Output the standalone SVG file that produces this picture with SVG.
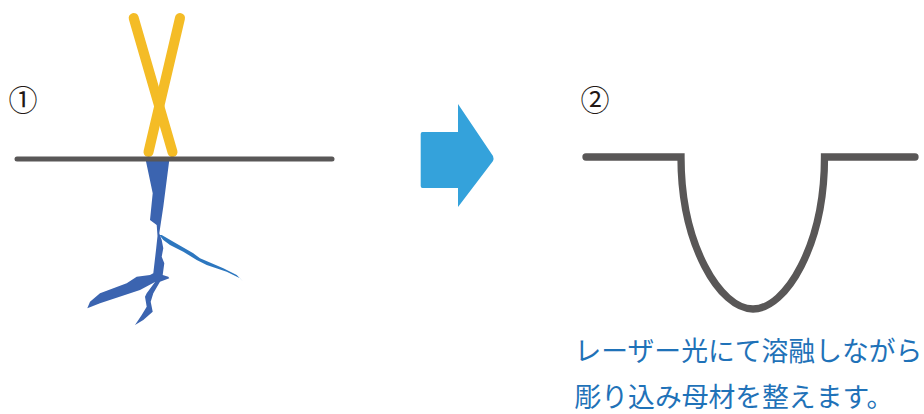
<svg xmlns="http://www.w3.org/2000/svg" width="924" height="414" viewBox="0 0 924 414">
  <style>
    .num { font-family: "Noto Sans CJK JP", "Noto Sans", sans-serif; font-size: 29px; fill: #231815; text-anchor: middle; }
    .caption { font-family: "Noto Sans CJK JP", sans-serif; font-size: 26.8px; fill: #1F72B8; }
    .surface { fill: none; stroke: #595757; stroke-linecap: round; stroke-linejoin: miter; }
    .laser { stroke: #F4BC26; stroke-width: 10; stroke-linecap: round; }
  </style>
  <rect width="924" height="414" fill="#ffffff"/>

  <!-- Step 1: laser beams over a cracked surface -->
  <g id="step1">
    <text class="num" x="23" y="111">①</text>
    <!-- crack body -->
    <path fill="#3B64B0" d="M145.7,160 L169.3,160 L163.3,206.7 L159.3,233.3 L161.7,240 L163.3,248.3 L161.7,256.7 L164.3,263.3 L162.7,275 L168.3,276.7 L169.3,278.3 L160,281.7 L153.3,293.3 L150.7,301.7 L152.7,311.7 L143.3,320 L135,325 L141.7,315 L146.7,306.7 L145,296.7 L146.7,293.3 L155,282 L140,290 L100,303.3 L87.3,308.3 L90,301.7 L100,293.3 L126.7,283.3 L136.7,276.7 L150,275 L153.3,273.3 L156,250 L157.5,236 L156.7,225 L150,220 L152.7,193.3 Z"/>
    <!-- side branch of the crack -->
    <path fill="#2D77BF" d="M159.3,235 L161.7,235 L173.3,241.7 L193.3,253.3 L200,258.3 L223.3,268.3 L236.7,275 L243.3,281.7 L240,278.3 L226.7,271.7 L206.7,265 L196.7,260 L183.3,251.7 L170,245 L163.3,240 Z"/>
    <!-- crossing laser beams -->
    <line class="laser" x1="133.7" y1="18" x2="172.5" y2="152"/>
    <line class="laser" x1="180" y1="18" x2="148.5" y2="152"/>
    <!-- base material surface -->
    <line class="surface" x1="17" y1="159" x2="332" y2="159" stroke-width="5"/>
  </g>

  <!-- Transition arrow -->
  <g id="connectors">
    <path fill="#34A2DB" d="M422.5,132 H458 V104 L493,156 Q494,158.5 493,161 L458,207 V188 H422.5 Q420.7,188 420.7,186 V134 Q420.7,132 422.5,132 Z"/>
  </g>

  <!-- Step 2: reshaped groove -->
  <g id="step2">
    <text class="num" x="595" y="111">②</text>
    <path class="surface" stroke-width="7.3" d="M586,157 H681 C681,245 720,309 753,309 C786,309 824.5,245 824.5,157 H915"/>
  </g>

  <g id="caption">
    <text class="caption" x="574.5" y="361">レーザー光にて溶融しながら</text>
    <text class="caption" x="574.5" y="407">彫り込み母材を整えます。</text>
  </g>
</svg>
